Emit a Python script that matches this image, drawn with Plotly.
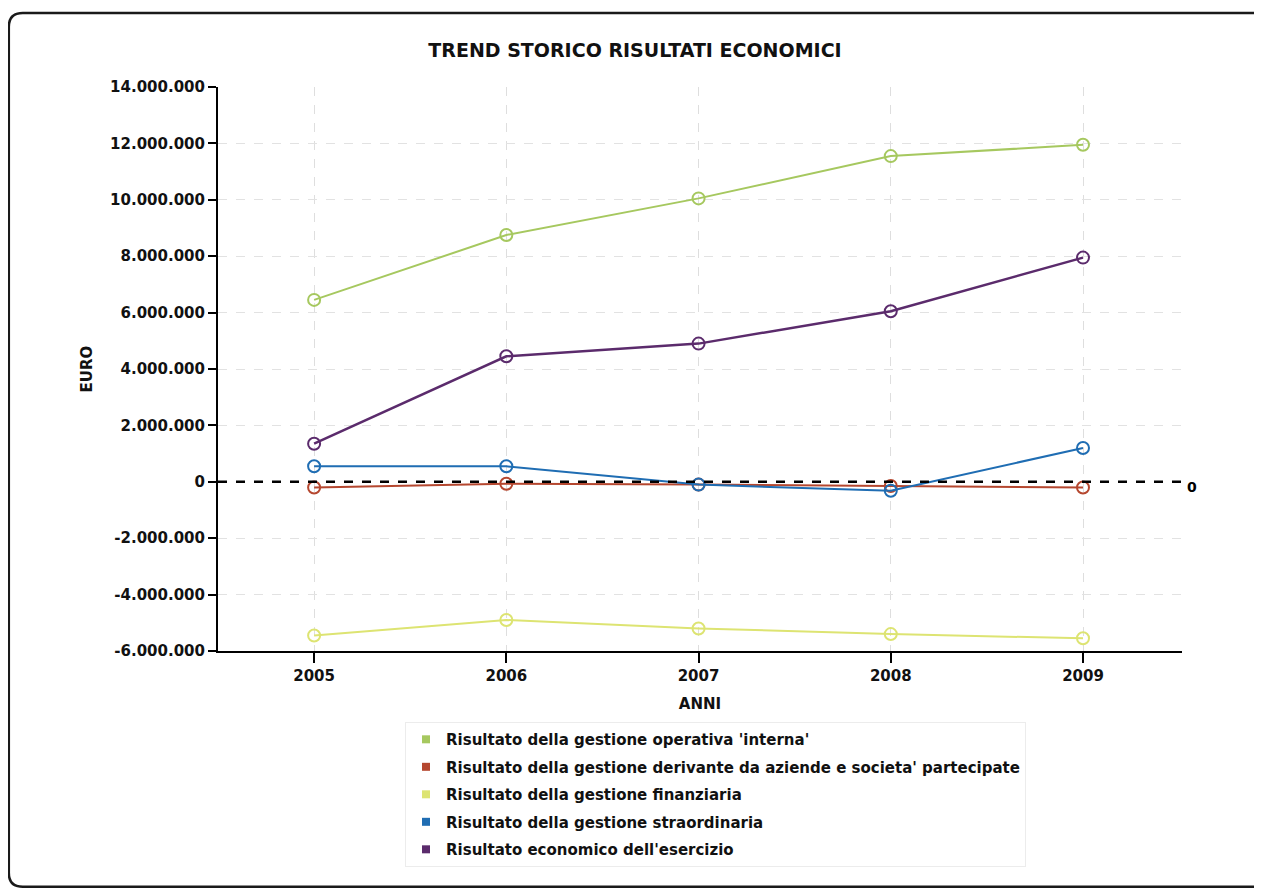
import plotly.graph_objects as go

anni = [2005, 2006, 2007, 2008, 2009]
operativa = [6450000, 8750000, 10050000, 11550000, 11950000]
partecipate = [-200000, -70000, -100000, -150000, -200000]
finanziaria = [-5450000, -4900000, -5200000, -5400000, -5550000]
straordinaria = [550000, 550000, -100000, -320000, 1200000]
esercizio = [1350000, 4450000, 4900000, 6050000, 7950000]

nomi = [
    "Risultato della gestione operativa 'interna'",
    "Risultato della gestione derivante da aziende e societa' partecipate",
    "Risultato della gestione finanziaria",
    "Risultato della gestione straordinaria",
    "Risultato economico dell'esercizio",
]
serie = [operativa, partecipate, finanziaria, straordinaria, esercizio]
colori = ["#a6c85f", "#b5472f", "#dde472", "#1f6db3", "#5b2b6c"]

y_ticks = [14000000, 12000000, 10000000, 8000000, 6000000, 4000000, 2000000, 0,
           -2000000, -4000000, -6000000]
y_labels = ["14.000.000", "12.000.000", "10.000.000", "8.000.000", "6.000.000",
            "4.000.000", "2.000.000", "0", "-2.000.000", "-4.000.000", "-6.000.000"]

FONT = "DejaVu Sans"
fig = go.Figure()
for i, (nome, vals, col) in enumerate(zip(nomi, serie, colori)):
    fig.add_trace(go.Scatter(
        x=anni, y=vals, mode="lines+markers", name=nome, showlegend=False,
        line=dict(color=col, width=2.5 if i == 4 else 2),
        marker=dict(symbol="circle-open", size=12, color=col, line=dict(width=2)),
    ))
    fig.add_trace(go.Scatter(
        x=[None], y=[None], mode="markers", name=nome, showlegend=True,
        legendgroup="g%d" % i,
        marker=dict(symbol="square", size=8, color=col),
    ))

fig.add_shape(type="line", xref="x", yref="y", x0=2004.5, x1=2009.515, y0=0, y1=0,
              line=dict(color="black", width=2.5, dash="dash"))
fig.add_annotation(x=1.0, xref="paper", y=0, yref="y", text="<b>0</b>", showarrow=False,
                   xanchor="left", xshift=3, yshift=-5,
                   font=dict(size=14, color="black", family=FONT))

# outer rounded frame (paper coords; 964 x 564 px plot area)
x0, x1, y0, y1 = -0.217, 1.081, -0.418, 1.131
rx, ry = 14 / 964, 14 / 564
path = (f"M {x0+rx},{y1} L {x1},{y1} L {x1},{y0} L {x0+rx},{y0} "
        f"Q {x0},{y0} {x0},{y0+ry} L {x0},{y1-ry} Q {x0},{y1} {x0+rx},{y1} Z")
fig.add_shape(type="path", xref="paper", yref="paper", path=path,
              line=dict(color="#1a1a1a", width=2.5))

fig.update_layout(
    width=1254, height=881,
    margin=dict(l=210, r=80, t=79, b=238),
    paper_bgcolor="white", plot_bgcolor="white",
    font=dict(family=FONT, color="#111", weight="bold"),
    title=dict(text="TREND STORICO RISULTATI ECONOMICI", x=0.5, xanchor="center",
               y=0.952, yanchor="middle",
               font=dict(size=19, color="#111", family=FONT, weight="bold")),
    xaxis=dict(range=[2004.5, 2009.515], tickvals=anni, ticktext=[str(a) for a in anni],
               showline=True, linecolor="black", linewidth=2, ticks="outside",
               ticklen=10, tickwidth=2, tickcolor="black",
               showgrid=True, gridcolor="#dedede", griddash="dash",
               zeroline=False, tickfont=dict(size=15, color="#111", weight="bold"),
               title=dict(text="ANNI", font=dict(size=15, weight="bold"), standoff=14)),
    yaxis=dict(range=[-6000000, 14000000], tickvals=y_ticks, ticktext=y_labels,
               showline=True, linecolor="black", linewidth=2, ticks="outside",
               ticklen=8, tickwidth=2, tickcolor="black",
               showgrid=True, gridcolor="#e2e2e2", griddash="dash",
               zeroline=False, tickfont=dict(size=15, color="#111", weight="bold"),
               title=dict(text="EURO", font=dict(size=15, weight="bold"), standoff=14)),
    legend=dict(x=0.194, xanchor="left", y=-0.126, yanchor="top",
                bordercolor="#ececec", borderwidth=1, bgcolor="white",
                font=dict(size=15, color="#111", weight="bold"), tracegroupgap=5,
                itemwidth=30),
)

fig.write_html("out.html")
